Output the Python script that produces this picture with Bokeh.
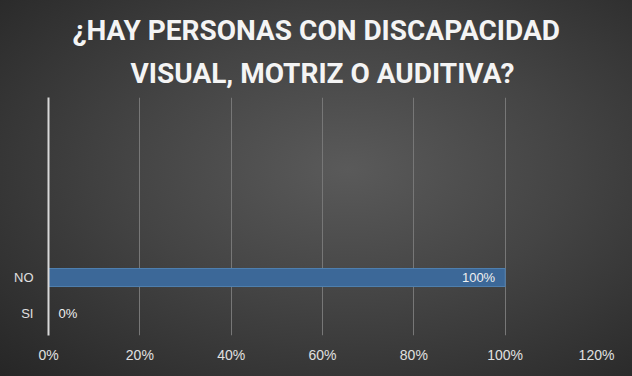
from bokeh.plotting import figure
from bokeh.models import Title, ColumnDataSource, FixedTicker, NumeralTickFormatter
from bokeh.core.properties import value
from bokeh.embed import file_html
from bokeh.resources import INLINE

# Data
categories = ["SI", "NO"]
values = [0.0, 1.0]
x_ticks = [0.0, 0.2, 0.4, 0.6, 0.8, 1.0, 1.2]
title_lines = ["¿HAY PERSONAS CON DISCAPACIDAD", "VISUAL, MOTRIZ O AUDITIVA?"]

y_pos = [i + 0.61 for i in range(len(categories))]
labels = ["{:.0f}%".format(v * 100) for v in values]
label_align = ["right" if v > 0.5 else "left" for v in values]
label_off = [-10 if v > 0.5 else 10 for v in values]
src = ColumnDataSource(dict(y=y_pos, v=values, lab=labels, al=label_align, off=label_off))

p = figure(width=632, height=376, output_backend="svg", toolbar_location=None,
           x_range=(0, 1.2), y_range=(0, 6.61),
           min_border_left=48, min_border_right=36, min_border_top=0, min_border_bottom=41)
p.background_fill_alpha = 0
p.border_fill_alpha = 0
p.outline_line_color = None
p.styles = {"background": "radial-gradient(ellipse at 55% 45%, #5a5a5a 0%, #444444 45%, #262626 100%)"}

p.hbar(y="y", left=0, right="v", height=0.5, source=src, fill_color="#3c6898",
       line_color="#4f80b0", line_width=1)
p.text(x="v", y="y", text="lab", text_align="al", x_offset="off", text_baseline="middle",
       text_color="#f0f0f0", text_font=value("Liberation Sans"), text_font_size="13px", source=src)

# x axis
p.xaxis.ticker = FixedTicker(ticks=x_ticks)
p.xaxis.formatter = NumeralTickFormatter(format="0%")
p.xaxis.axis_line_color = None
p.xaxis.major_tick_line_color = None
p.xaxis.minor_tick_line_color = None
p.xaxis.major_label_text_color = "#e0e0e0"
p.xaxis.major_label_text_font = "Liberation Sans"
p.xaxis.major_label_text_font_size = "14px"
p.xaxis.major_label_standoff = 5

# y axis
p.yaxis.ticker = FixedTicker(ticks=y_pos)
p.yaxis.major_label_overrides = {y: c for y, c in zip(y_pos, categories)}
p.yaxis.axis_line_color = "#d8d8d8"
p.yaxis.axis_line_width = 2
p.yaxis.major_tick_line_color = None
p.yaxis.minor_tick_line_color = None
p.yaxis.major_label_text_color = "#e0e0e0"
p.yaxis.major_label_text_font = "Liberation Sans"
p.yaxis.major_label_text_font_size = "13px"
p.yaxis.major_label_standoff = 9

p.xgrid.ticker = FixedTicker(ticks=x_ticks[1:])
p.xgrid.grid_line_color = "#777777"
p.xgrid.grid_line_width = 1
p.ygrid.grid_line_color = None

standoffs = [16, 0]
offsets = [82, 24]
for line, so, off in zip(reversed(title_lines), standoffs, offsets):
    p.add_layout(Title(text=line, align="left", text_font="Roboto", text_font_style="bold",
                       text_font_size="28px", text_color="#f4f4f4", standoff=so, offset=off), "above")
# top padding
p.add_layout(Title(text=" ", text_font_size="8px", standoff=0), "above")

open("out.html", "w").write(file_html(p, INLINE))
